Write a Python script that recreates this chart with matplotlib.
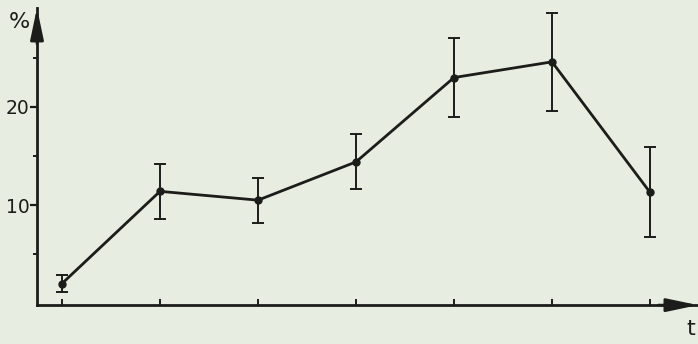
import matplotlib
matplotlib.use("Agg")
import matplotlib.pyplot as plt
from matplotlib.ticker import FixedLocator, NullFormatter

# data
periods = [1, 2, 3, 4, 5, 6, 7]
percent = [2.0, 11.4, 10.5, 14.4, 23.0, 24.6, 11.3]
errors = [0.85, 2.8, 2.3, 2.8, 4.0, 5.0, 4.6]
y_major = [10, 20]
y_minor = [5, 15, 25]

bg = "#e7ede0"
ink = "#1c1c1a"

fig = plt.figure(figsize=(6.98, 3.44), dpi=100, facecolor=bg)
ax = fig.add_axes([0.053, 0.113, 0.947, 0.864], facecolor=bg)

ax.errorbar(periods, percent, yerr=errors, color=ink, lw=2.0, elinewidth=1.4,
            capsize=4.5, capthick=1.4, marker="o", ms=5, zorder=3)

ax.set_xlim(0.745, 7.49)
ax.set_ylim(-0.2, 30.1)

for s in ("top", "right"):
    ax.spines[s].set_visible(False)
for s in ("left", "bottom"):
    ax.spines[s].set_linewidth(2.0)
    ax.spines[s].set_color(ink)

ax.set_xticks(periods)
ax.set_xticklabels([])
ax.tick_params(axis="x", direction="in", length=4, width=1.4, color=ink)
ax.yaxis.set_major_locator(FixedLocator(y_major))
ax.yaxis.set_minor_locator(FixedLocator(y_minor))
ax.yaxis.set_minor_formatter(NullFormatter())
ax.tick_params(axis="y", which="major", direction="out", length=5, width=1.6,
               color=ink, labelsize=13.5, labelcolor=ink, pad=0.5)
ax.tick_params(axis="y", which="minor", direction="out", length=3, width=1.4, color=ink)

# arrow heads
ax.annotate("", xy=(0, 1.0), xycoords="axes fraction", xytext=(0, 0.88),
            arrowprops=dict(arrowstyle="-|>,head_length=1.9,head_width=0.4",
                            color=ink, lw=2.0, shrinkA=0, shrinkB=0))
ax.annotate("", xy=(1.0, 0), xycoords="axes fraction", xytext=(0.94, 0),
            arrowprops=dict(arrowstyle="-|>,head_length=1.9,head_width=0.4",
                            color=ink, lw=2.0, shrinkA=0, shrinkB=0))

fig.text(9 / 698, 1 - 22 / 344, "%", fontsize=16, color=ink, va="center", ha="left")
fig.text(686 / 698, 1 - 329 / 344, "t", fontsize=16, color=ink, va="center", ha="left")

fig.savefig("out.png", dpi=100, facecolor=bg)
